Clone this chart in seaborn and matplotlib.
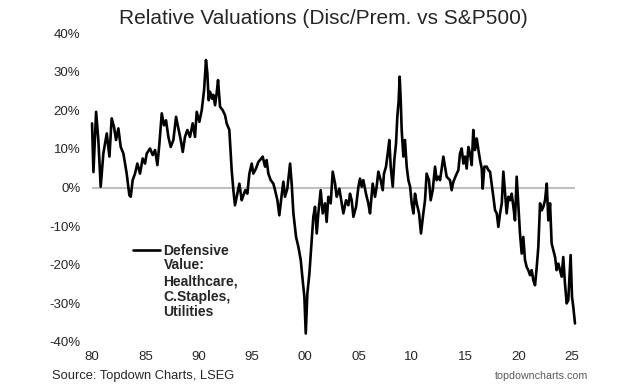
import pandas as pd
import matplotlib.pyplot as plt
import seaborn as sns

# Defensive value relative valuation (% disc/prem vs S&P500)
years = [
    1980.00, 1980.13, 1980.38, 1980.59, 1980.81, 1981.06, 1981.38, 1981.63, 1981.84, 1982.06,
    1982.25, 1982.47, 1982.69, 1982.94, 1983.25, 1983.50, 1983.63, 1983.81, 1984.03, 1984.25,
    1984.50, 1984.75, 1984.97, 1985.13, 1985.44, 1985.69, 1985.91, 1986.13, 1986.32, 1986.54,
    1986.75, 1986.94, 1987.16, 1987.38, 1987.63, 1987.88, 1988.10, 1988.32, 1988.51, 1988.72,
    1988.94, 1989.19, 1989.44, 1989.66, 1989.82, 1990.07, 1990.29, 1990.51, 1990.69, 1990.82,
    1990.94, 1991.07, 1991.26, 1991.38, 1991.54, 1991.69, 1991.82, 1992.01, 1992.26, 1992.48,
    1992.63, 1992.88, 1993.10, 1993.26, 1993.41, 1993.57, 1993.82, 1994.04, 1994.20, 1994.38,
    1994.57, 1994.76, 1994.98, 1995.13, 1995.38, 1995.60,
    1995.76, 1996.01, 1996.23, 1996.38, 1996.54, 1996.76, 1997.01, 1997.17, 1997.39, 1997.57,
    1997.79, 1997.95, 1998.10, 1998.32, 1998.58, 1998.73, 1998.89, 1999.14, 1999.36, 1999.58,
    1999.76, 1999.92, 2000.05, 2000.20, 2000.39, 2000.61, 2000.76, 2000.92, 2001.08, 2001.23,
    2001.45, 2001.64, 2001.86, 2002.01, 2002.17, 2002.39, 2002.58, 2002.80, 2002.95, 2003.20,
    2003.42, 2003.58, 2003.83, 2004.05, 2004.20, 2004.36, 2004.52, 2004.77, 2004.99, 2005.14,
    2005.30, 2005.45, 2005.70, 2005.92, 2006.08, 2006.33, 2006.55, 2006.70, 2006.86, 2007.08,
    2007.27, 2007.39, 2007.58, 2007.74, 2007.89, 2008.02, 2008.21, 2008.36, 2008.52, 2008.64,
    2008.77, 2008.86, 2008.96, 2009.05, 2009.21, 2009.36, 2009.52, 2009.68, 2009.84, 2009.99,
    2010.15, 2010.30, 2010.46, 2010.68, 2010.86, 2011.08, 2011.24, 2011.39, 2011.61, 2011.77,
    2011.96, 2012.18, 2012.33, 2012.49,
    2012.65, 2012.96, 2013.27, 2013.58, 2013.74, 2013.90, 2014.15, 2014.37, 2014.52, 2014.68,
    2014.84, 2014.99, 2015.15, 2015.31, 2015.46, 2015.62, 2015.77, 2015.93, 2016.09, 2016.25,
    2016.40, 2016.56, 2016.65, 2016.81, 2017.03, 2017.18, 2017.34, 2017.49, 2017.65, 2017.81,
    2017.97, 2018.12, 2018.28, 2018.44, 2018.59, 2018.75, 2018.90, 2019.06, 2019.21, 2019.37,
    2019.53, 2019.68, 2019.84, 2020.00, 2020.15, 2020.31, 2020.46, 2020.62, 2020.78, 2020.93,
    2021.09, 2021.25, 2021.40, 2021.56, 2021.72, 2021.87, 2022.03, 2022.19, 2022.34, 2022.50,
    2022.66, 2022.81, 2022.97, 2023.12, 2023.28, 2023.44, 2023.59, 2023.75, 2023.90, 2024.06,
    2024.21, 2024.37, 2024.53, 2024.68, 2024.78, 2024.90, 2025.03, 2025.15, 2025.31,
]
values = [
    16.6, 4.0, 19.6, 12.3, 0.2, 8.8, 14.0, 8.0, 17.9, 15.7,
    12.3, 15.3, 10.5, 8.8, 3.6, -2.0, -2.4, 1.9, 3.6, 6.2,
    3.6, 7.5, 6.2, 8.8, 10.1, 8.4, 9.7, 5.8, 11.4, 19.2,
    16.1, 17.4, 13.1, 10.5, 12.3, 18.3, 15.3, 12.3, 9.2, 13.1,
    14.9, 13.1, 16.6, 13.1, 19.6, 17.0, 20.0, 25.2, 33.0, 29.5,
    22.6, 24.8, 23.0, 24.0, 21.3, 24.4, 27.8, 20.9, 20.0, 18.7,
    16.6, 14.9, 4.5, -0.7, -4.6, -2.4, 1.0, -3.3, -2.0, -0.7,
    -1.6, 3.6, 6.2, 3.6, 4.9, 6.6,
    7.1, 8.0, 5.4, 7.1, 3.6, 1.9, 1.0, -0.7, -3.3, -7.2,
    -2.0, 1.5, -2.4, -0.3, 6.2, 1.0, -6.7, -12.8, -15.4, -18.8,
    -24.0, -28.3, -37.8, -27.5, -22.3, -13.6, -7.6, -5.0, -11.9, -6.7,
    -0.7, -6.7, -4.1, -8.9, -2.4, -4.1, 4.1, 1.0, -2.4, -0.3,
    -4.1, -6.7, -3.3, -4.6, -1.6, -3.3, -7.6, -5.0, 0.2, 2.3,
    0.2, 1.9, -1.6, -4.1, -6.7, 1.0, -2.4, 0.2, 4.1, 1.9,
    -0.7, 3.6, 5.4, 8.8, 12.3, 5.4, 0.2, 7.1, 11.4, 18.3,
    22.6, 28.7, 22.6, 14.9, 8.0, 12.3, 5.4, 1.9, 0.2, -4.1,
    -6.7, -1.6, -4.1, -6.7, -11.9, -6.7, -3.3, 3.6, 1.9, -3.3,
    -0.7, 5.4, 1.9, 2.8,
    1.9, 8.0, 2.8, 1.9, -0.7, 1.5, 3.2, 4.5, 8.8, 10.1,
    6.2, 8.0, 4.9, 10.5, 8.8, 5.8, 14.9, 9.7, 12.7, 9.7,
    7.1, 4.9, -0.3, 5.4, 5.4, 4.5, 4.1, 1.0, -2.4, -5.9,
    -6.7, -10.2, -6.7, -4.1, 4.1, -1.6, -6.7, -2.4, -3.3, -1.6,
    -5.0, -8.5, 2.8, -5.0, -11.9, -17.1, -12.8, -18.8, -20.6, -21.4,
    -22.7, -21.4, -24.0, -25.3, -20.6, -15.4, -4.1, -5.9, -5.0, -3.3,
    1.0, -8.5, -4.1, -14.5, -16.2, -18.0, -21.4, -19.7, -21.4, -23.1,
    -18.0, -24.9, -30.0, -29.2, -24.0, -17.5, -28.3, -30.9, -35.2,
]

tick_years = [1980, 1985, 1990, 1995, 2000, 2005, 2010, 2015, 2020, 2025]
tick_labels = ["80", "85", "90", "95", "00", "05", "10", "15", "20", "25"]
y_ticks = [-40, -30, -20, -10, 0, 10, 20, 30, 40]

df = pd.DataFrame({"year": years, "value": values})

sns.set_style("white")
plt.rcParams["font.family"] = ["Liberation Sans", "DejaVu Sans"]

fig = plt.figure(figsize=(6.37, 3.91), dpi=100)
ax = fig.add_axes([88 / 637, 49 / 391, 492 / 637, 309 / 391])

ax.hlines(0, years[0], years[-1], color="#c0c0c0", lw=1.5, zorder=1)
sns.lineplot(data=df, x="year", y="value", color="black", lw=1.9, ax=ax,
             label="Defensive", zorder=3)

ax.set_xlim(1979.62, 2025.78)
ax.set_ylim(-40, 40)
ax.set_xticks(tick_years)
ax.set_xticklabels(tick_labels)
ax.set_yticks(y_ticks)
ax.set_yticklabels([f"{v}%" for v in y_ticks])
ax.tick_params(axis="x", length=0, pad=6.5, labelsize=9.5)
ax.tick_params(axis="y", length=0, pad=5.5, labelsize=9.5)
ax.set_xlabel("")
ax.set_ylabel("")
for s in ax.spines.values():
    s.set_visible(False)

leg = ax.legend(loc="upper left", bbox_to_anchor=(0.0915, 0.316), frameon=False,
                borderpad=0, borderaxespad=0, handlelength=1.95, handletextpad=0.25,
                prop={"weight": "bold", "size": 10})
# rest of the legend label, hung under "Defensive" (drawn after the legend)
ax.annotate("Value:\nHealthcare,\nC.Staples,\nUtilities", xy=(0, 0),
            xycoords=leg.get_texts()[0], va="top", ha="left",
            fontsize=10, fontweight="bold", linespacing=1.15, zorder=10)

fig.text(0.507, 0.952, "Relative Valuations (Disc/Prem. vs S&P500)",
         ha="center", va="center", fontsize=15)
fig.text(52 / 637, 0.038, "Source: Topdown Charts, LSEG", ha="left", va="center",
         fontsize=9.3)
fig.text(588 / 637, 0.038, "topdowncharts.com", ha="right", va="center",
         fontsize=7.7, color="#595959")

fig.savefig("out.png", dpi=100)
